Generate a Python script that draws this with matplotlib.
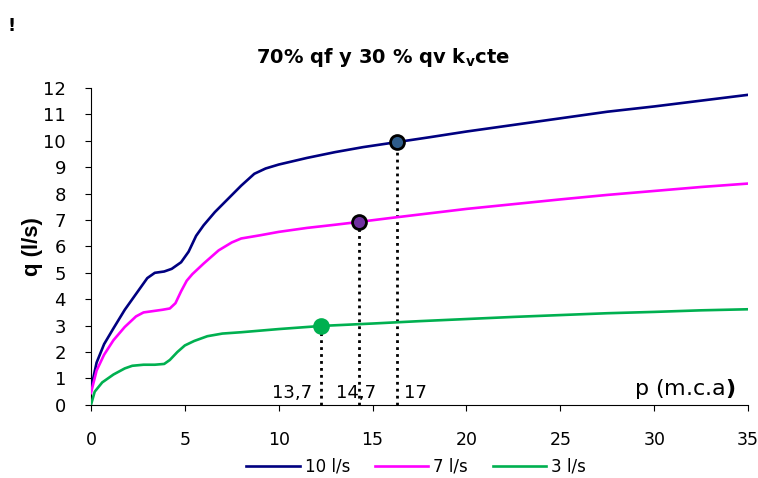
import matplotlib.pyplot as plt
import numpy as np

plt.rcParams['font.family'] = ['DejaVu Sans']

# 10 l/s
p10 = [0, 0.3, 0.7, 1.2, 1.8, 2.5, 3.0, 3.4, 3.9, 4.3, 4.8, 5.2, 5.6, 6.0, 6.6, 7.3, 8.0, 8.7, 9.3, 10.0, 11.5, 13.0, 14.5, 16.3, 18.0, 20.0, 22.5, 25.0, 27.5, 30.0, 32.5, 35.0]
q10 = [0.6, 1.6, 2.3, 2.9, 3.6, 4.3, 4.8, 5.0, 5.05, 5.15, 5.4, 5.8, 6.4, 6.8, 7.3, 7.8, 8.3, 8.75, 8.95, 9.1, 9.35, 9.57, 9.76, 9.95, 10.13, 10.35, 10.6, 10.85, 11.1, 11.3, 11.52, 11.74]

# 7 l/s
p7 = [0, 0.3, 0.7, 1.2, 1.8, 2.4, 2.8, 3.3, 3.8, 4.2, 4.5, 4.8, 5.1, 5.4, 6.0, 6.8, 7.5, 8.0, 9.0, 10.0, 11.5, 13.0, 14.3, 16.0, 18.0, 20.0, 22.5, 25.0, 27.5, 30.0, 32.5, 35.0]
q7 = [0.45, 1.3, 1.9, 2.45, 2.95, 3.35, 3.5, 3.55, 3.6, 3.65, 3.85, 4.3, 4.7, 4.95, 5.35, 5.85, 6.15, 6.3, 6.42, 6.55, 6.7, 6.82, 6.93, 7.08, 7.25, 7.42, 7.6, 7.78, 7.95, 8.1, 8.25, 8.38]

# 3 l/s
p3 = [0, 0.2, 0.6, 1.2, 1.8, 2.2, 2.8, 3.4, 3.9, 4.2, 4.6, 5.0, 5.5, 6.2, 7.0, 8.0, 10.0, 12.3, 15.0, 17.5, 20.0, 22.5, 25.0, 27.5, 30.0, 32.5, 35.0]
q3 = [0.0, 0.5, 0.85, 1.15, 1.38, 1.48, 1.52, 1.52, 1.55, 1.7, 2.0, 2.25, 2.42, 2.6, 2.7, 2.75, 2.87, 2.99, 3.08, 3.17, 3.25, 3.33, 3.4, 3.47, 3.52, 3.58, 3.62]

# marked points and labels
mark_p = [16.3, 14.3, 12.25]
mark_q = [9.95, 6.93, 2.99]
mark_top = [9.95, 7.3, 2.99]
mark_face = ['#2E5C8A', '#7030A0', '#00B050']
mark_edge = ['black', 'black', '#00B050']
mark_txt = ['17', '14,7', '13,7']
txt_p = [17.3, 14.1, 10.7]

fig = plt.figure(figsize=(7.58, 4.78), dpi=100)
ax = fig.add_axes([0.12, 0.153, 0.867, 0.663])

ax.plot(p10, q10, color='#000080', lw=1.9, label='10 l/s', zorder=3)
ax.plot(p7, q7, color='#FF00FF', lw=1.9, label='7 l/s', zorder=3)
ax.plot(p3, q3, color='#00B050', lw=1.9, label='3 l/s', zorder=3)

for i in range(3):
    ax.plot([mark_p[i], mark_p[i]], [0, mark_top[i]], color='black', lw=2,
            linestyle=(0, (1, 1.5)), zorder=2)
    ax.plot(mark_p[i], mark_q[i], 'o', ms=10, mfc=mark_face[i], mec=mark_edge[i],
            mew=2, zorder=4)
    ax.text(txt_p[i], 0.27, mark_txt[i], fontsize=13, ha='center', va='baseline')

ax.text(28.9, 0.38, r'p (m.c.a$\mathbf{)}$', fontsize=16, ha='left', va='baseline')

ax.set_xlim(0, 35)
ax.set_ylim(0, 12)
ax.set_xticks(np.arange(0, 36, 5))
ax.set_yticks(np.arange(0, 13, 1))
ax.tick_params(direction='out', length=4)
ax.tick_params(axis='x', pad=15, labelsize=12.5)
ax.tick_params(axis='y', pad=14, labelsize=13)
ax.spines['top'].set_visible(False)
ax.spines['right'].set_visible(False)
ax.set_ylabel('q (l/s)', fontsize=16, fontweight='bold', labelpad=0,
              family=['Liberation Sans'])

fig.text(0.505, 0.88, r'70% qf y 30 % qv k$_\mathbf{v}$cte', fontsize=14,
         fontweight='bold', ha='center', va='center')
fig.text(0.015, 0.945, '!', fontsize=13, fontweight='bold', ha='center', va='center')

ax.legend(loc='upper center', bbox_to_anchor=(0.495, -0.12), ncol=3, frameon=False,
          fontsize=12, handlelength=3.2, handletextpad=0.3, columnspacing=1.5)

fig.savefig('out.png', dpi=100)
